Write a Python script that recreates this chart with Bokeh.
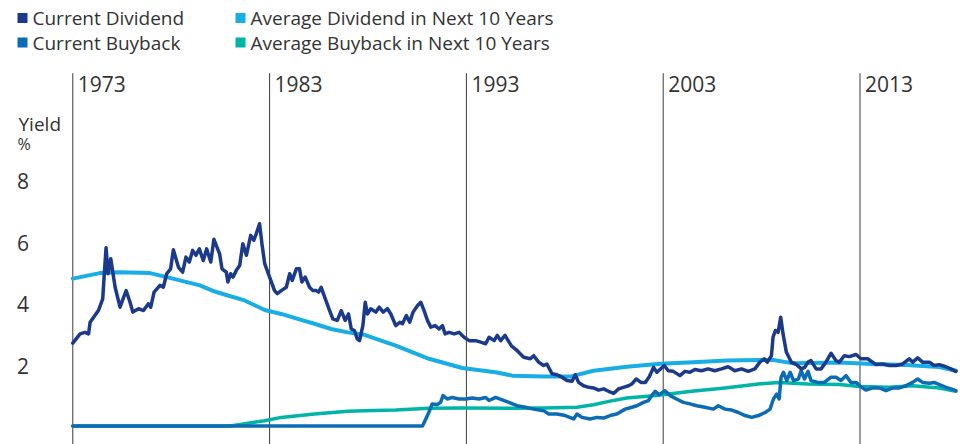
from bokeh.plotting import figure
from bokeh.models import Range1d, Label, BoxAnnotation, ColumnDataSource
from bokeh.core.properties import value
from bokeh.embed import file_html
from bokeh.resources import INLINE

# ---- data: (fractional year, yield %) ----
current_dividend = [
    (1973.00, 2.70), (1973.37, 3.00), (1973.62, 3.05), (1973.80, 3.00), (1973.88, 3.38),
    (1974.30, 3.76), (1974.52, 4.14), (1974.59, 4.85), (1974.69, 5.81), (1974.79, 4.96),
    (1974.93, 5.45), (1975.15, 4.52), (1975.40, 3.87), (1975.71, 4.41), (1975.91, 4.03),
    (1976.05, 3.71), (1976.34, 3.82), (1976.59, 3.76), (1976.84, 3.98), (1976.96, 3.87),
    (1977.13, 4.36), (1977.43, 4.58), (1977.60, 4.52), (1977.77, 4.96), (1977.97, 5.12),
    (1978.11, 5.74), (1978.37, 5.17), (1978.58, 5.01), (1978.75, 5.50), (1978.92, 5.34),
    (1979.09, 5.72), (1979.26, 5.56), (1979.43, 5.77), (1979.63, 5.39), (1979.80, 5.77),
    (1980.01, 5.34), (1980.17, 6.08), (1980.46, 5.61), (1980.58, 5.12), (1980.80, 5.01),
    (1980.88, 4.69), (1981.02, 4.96), (1981.14, 4.85), (1981.31, 5.07), (1981.48, 5.23),
    (1981.64, 5.94), (1981.82, 5.56), (1982.04, 6.21), (1982.20, 6.05), (1982.32, 6.26),
    (1982.49, 6.59), (1982.61, 5.94), (1982.75, 5.29), (1983.00, 4.85), (1983.25, 4.41),
    (1983.39, 4.31), (1983.59, 4.41), (1983.85, 4.52), (1984.02, 4.96), (1984.15, 4.74),
    (1984.36, 5.12), (1984.52, 5.12), (1984.64, 4.69), (1984.81, 4.85), (1985.03, 4.52),
    (1985.20, 4.41), (1985.37, 4.41), (1985.49, 4.36), (1985.62, 4.52), (1985.83, 4.14),
    (1986.05, 3.76), (1986.21, 3.49), (1986.44, 3.44), (1986.64, 3.76), (1986.84, 3.44),
    (1987.01, 3.65), (1987.15, 3.16), (1987.31, 3.11), (1987.45, 2.84), (1987.57, 2.78),
    (1987.74, 3.27), (1987.86, 4.03), (1987.97, 3.65), (1988.14, 3.82), (1988.40, 3.71),
    (1988.57, 3.87), (1988.77, 3.71), (1988.99, 3.82), (1989.16, 3.65), (1989.41, 3.27),
    (1989.62, 3.38), (1989.75, 3.33), (1989.95, 3.60), (1990.12, 3.38), (1990.29, 3.71),
    (1990.51, 3.92), (1990.68, 4.03), (1990.85, 3.76), (1991.02, 3.44), (1991.19, 3.22),
    (1991.41, 3.27), (1991.61, 3.16), (1991.78, 3.27), (1991.92, 3.00), (1992.12, 3.05),
    (1992.38, 3.00), (1992.63, 3.05), (1992.88, 2.89), (1993.14, 2.78), (1993.47, 2.78),
    (1993.73, 2.73), (1993.98, 2.68), (1994.15, 2.89), (1994.41, 2.78), (1994.57, 2.95),
    (1994.74, 2.78), (1994.96, 2.95), (1995.17, 2.73), (1995.30, 2.60), (1995.57, 2.46),
    (1995.91, 2.24), (1996.25, 2.19), (1996.42, 2.29), (1996.67, 2.08), (1996.92, 1.97),
    (1997.09, 2.02), (1997.35, 1.70), (1997.60, 1.67), (1997.86, 1.59), (1998.11, 1.48),
    (1998.37, 1.46), (1998.53, 1.67), (1998.70, 1.42), (1998.95, 1.31), (1999.21, 1.26),
    (1999.46, 1.24), (1999.72, 1.17), (1999.97, 1.21), (2000.22, 1.13), (2000.48, 1.06),
    (2000.73, 1.21), (2000.98, 1.26), (2001.24, 1.31), (2001.41, 1.37), (2001.63, 1.53),
    (2001.87, 1.42), (2002.09, 1.42), (2002.30, 1.61), (2002.51, 1.91), (2002.68, 1.75),
    (2002.85, 1.85), (2003.05, 1.97), (2003.26, 1.80), (2003.51, 1.78), (2003.85, 1.64),
    (2004.10, 1.78), (2004.36, 1.75), (2004.61, 1.84), (2004.94, 1.80), (2005.28, 1.86),
    (2005.62, 1.80), (2005.96, 1.86), (2006.30, 1.93), (2006.64, 1.80), (2006.98, 1.86),
    (2007.32, 1.78), (2007.66, 1.86), (2007.91, 2.08), (2008.13, 2.19), (2008.29, 2.08),
    (2008.50, 2.29), (2008.58, 2.89), (2008.70, 3.11), (2008.84, 3.05), (2008.97, 3.54),
    (2009.09, 3.00), (2009.26, 2.40), (2009.51, 2.08), (2009.77, 2.00), (2010.02, 1.86),
    (2010.19, 1.91), (2010.36, 2.08), (2010.51, 2.13), (2010.77, 1.86), (2011.02, 1.86),
    (2011.27, 2.08), (2011.53, 2.37), (2011.78, 2.13), (2011.95, 2.08), (2012.20, 2.29),
    (2012.46, 2.26), (2012.80, 2.33), (2013.05, 2.19), (2013.39, 2.19), (2013.81, 2.00),
    (2014.15, 2.02), (2014.49, 1.97), (2014.83, 1.97), (2015.17, 2.02), (2015.50, 2.19),
    (2015.68, 2.08), (2015.93, 2.22), (2016.18, 2.08), (2016.52, 2.08), (2016.77, 1.97),
    (2017.03, 2.00), (2017.37, 1.93), (2017.62, 1.86), (2017.87, 1.78),
]

average_dividend_next10 = [
    (1973.00, 4.80), (1974.37, 4.98), (1975.40, 5.01), (1976.92, 4.98), (1977.77, 4.85),
    (1979.46, 4.58), (1980.21, 4.38), (1980.88, 4.25), (1981.73, 4.09), (1982.75, 3.78),
    (1983.59, 3.65), (1984.43, 3.49), (1985.28, 3.33), (1986.13, 3.16), (1986.97, 3.05),
    (1987.82, 2.97), (1989.41, 2.62), (1991.10, 2.19), (1992.79, 1.89), (1994.48, 1.75),
    (1995.34, 1.64), (1996.92, 1.61), (1998.27, 1.61), (1999.46, 1.80), (2001.15, 1.93),
    (2002.85, 2.03), (2004.54, 2.08), (2006.23, 2.13), (2007.92, 2.15), (2008.60, 2.15),
    (2009.61, 2.04), (2010.46, 2.05), (2011.95, 2.07), (2013.64, 2.02), (2015.33, 1.99),
    (2017.03, 1.92), (2017.87, 1.80),
]

current_buyback = [
    (1973.00, 0.00), (1990.77, 0.00), (1991.09, 0.44), (1991.26, 0.72), (1991.52, 0.70),
    (1991.69, 0.77), (1991.81, 0.99), (1992.03, 0.88), (1992.28, 0.93), (1992.62, 0.88),
    (1992.96, 0.88), (1993.30, 0.91), (1993.64, 0.88), (1993.98, 0.93), (1994.15, 0.83),
    (1994.48, 0.93), (1994.82, 0.85), (1995.16, 0.77), (1995.57, 0.66), (1996.00, 0.61),
    (1996.42, 0.55), (1996.92, 0.50), (1997.18, 0.39), (1997.60, 0.39), (1998.02, 0.34),
    (1998.45, 0.23), (1998.62, 0.39), (1998.87, 0.28), (1999.29, 0.23), (1999.63, 0.28),
    (1999.97, 0.26), (2000.30, 0.34), (2000.64, 0.39), (2001.07, 0.55), (2001.41, 0.61),
    (2001.66, 0.66), (2002.00, 0.77), (2002.25, 0.83), (2002.42, 0.99), (2002.59, 1.13),
    (2002.80, 1.02), (2003.09, 1.15), (2003.35, 0.99), (2003.68, 0.88), (2004.02, 0.77),
    (2004.36, 0.72), (2004.70, 0.66), (2005.12, 0.61), (2005.55, 0.55), (2005.80, 0.66),
    (2006.14, 0.55), (2006.48, 0.52), (2006.82, 0.44), (2007.16, 0.34), (2007.50, 0.28),
    (2007.84, 0.34), (2008.18, 0.44), (2008.43, 0.55), (2008.60, 0.88), (2008.77, 1.04),
    (2008.89, 0.88), (2008.99, 1.59), (2009.11, 1.75), (2009.28, 1.48), (2009.45, 1.75),
    (2009.62, 1.48), (2009.87, 1.53), (2010.01, 1.80), (2010.18, 1.53), (2010.36, 1.78),
    (2010.51, 1.48), (2010.85, 1.42), (2011.19, 1.42), (2011.53, 1.59), (2011.78, 1.59),
    (2012.03, 1.48), (2012.29, 1.64), (2012.54, 1.42), (2012.80, 1.42), (2013.05, 1.28),
    (2013.30, 1.17), (2013.64, 1.24), (2013.98, 1.24), (2014.32, 1.15), (2014.66, 1.24),
    (2015.00, 1.24), (2015.33, 1.31), (2015.67, 1.42), (2015.93, 1.53), (2016.18, 1.42),
    (2016.52, 1.39), (2016.77, 1.42), (2017.03, 1.35), (2017.37, 1.26), (2017.62, 1.21),
    (2017.87, 1.15),
]

average_buyback_next10 = [
    (1973.00, 0.00), (1981.00, 0.00), (1982.00, 0.10), (1982.75, 0.17), (1983.59, 0.28),
    (1985.28, 0.39), (1986.97, 0.48), (1987.82, 0.50), (1989.41, 0.52), (1991.10, 0.58),
    (1992.79, 0.59), (1995.34, 0.58), (1996.92, 0.59), (1998.61, 0.61), (1999.46, 0.69),
    (2000.30, 0.81), (2001.15, 0.91), (2002.34, 0.98), (2002.75, 1.00), (2004.44, 1.13),
    (2006.14, 1.24), (2007.84, 1.37), (2008.86, 1.42), (2010.36, 1.37), (2011.95, 1.35),
    (2012.97, 1.29), (2014.49, 1.26), (2015.68, 1.31), (2017.03, 1.24), (2017.87, 1.13),
]

decade_years = [1973, 1983, 1993, 2003, 2013]
decade_labels = ["1973", "1983", "1993", "2003", "2013"]
yield_ticks = [2, 4, 6, 8]
yield_tick_labels = ["2", "4", "6", "8"]

series_names = [
    "Current Dividend",
    "Current Buyback",
    "Average Dividend in Next 10 Years",
    "Average Buyback in Next 10 Years",
]

# ---- styling ----
NAVY = "#1b3a8b"
SKY = "#19ade6"
BLUE = "#0b6cb5"
TEAL = "#00b5a6"
INK = "#333333"
FONT = "Open Sans"

W, H = 964, 444
PX_PER_YEAR = 19.68
PX_PER_PCT = 30.7
X_1973 = 72.3      # screen x of 1973
Y_ZERO = 425.5     # screen y (from top) of 0 %

x_start = 1973 - X_1973 / PX_PER_YEAR
x_end = 1973 + (W - X_1973) / PX_PER_YEAR
y_end = Y_ZERO / PX_PER_PCT
y_start = -(H - Y_ZERO) / PX_PER_PCT

p = figure(
    width=W, height=H,
    x_range=Range1d(x_start, x_end), y_range=Range1d(y_start, y_end),
    output_backend="svg", toolbar_location=None,
    x_axis_location=None, y_axis_location=None,
    min_border=0, outline_line_color=None,
    background_fill_color="white", border_fill_color="white",
)
p.xgrid.visible = False
p.ygrid.visible = False

# decade divider lines and their labels
line_top = y_end - 72.7 / PX_PER_PCT
p.segment(x0=decade_years, y0=[y_start] * len(decade_years),
          x1=decade_years, y1=[line_top] * len(decade_years),
          line_color="#3a3a3a", line_width=1)
p.text(x=decade_years, y=[y_end - 83 / PX_PER_PCT] * len(decade_years),
       text=decade_labels, x_offset=5, text_align="left", text_baseline="middle",
       text_font=value(FONT), text_font_size="21px", text_color=INK)

# y tick labels on the left
tick_src = ColumnDataSource(dict(x=[x_start] * len(yield_ticks), y=yield_ticks,
                                 t=yield_tick_labels))
p.text(x="x", y="y", text="t", source=tick_src, x_offset=22.5, y_offset=1,
       text_align="center", text_baseline="middle",
       text_font=value(FONT), text_font_size="21px", text_color=INK)

p.add_layout(Label(x=18, y=H - 123, x_units="screen", y_units="screen", text="Yield",
                   text_font=FONT, text_font_size="19px", text_color=INK,
                   text_baseline="middle"))
p.add_layout(Label(x=17, y=H - 143, x_units="screen", y_units="screen", text="%",
                   text_font=FONT, text_font_size="16px", text_color=INK,
                   text_baseline="middle"))


def xy(series):
    return [d[0] for d in series], [d[1] for d in series]


for series, color, width in [
    (average_buyback_next10, TEAL, 3.5),
    (average_dividend_next10, SKY, 4),
    (current_buyback, BLUE, 3.5),
    (current_dividend, NAVY, 3.5),
]:
    xs, ys = xy(series)
    p.line(xs, ys, line_color=color, line_width=width, line_join="round", line_cap="round")

# legend: two rows, two columns of square swatches
legend_colors = [NAVY, BLUE, SKY, TEAL]
legend_pos = [(17, 17.5), (17, 42), (235, 17.5), (235, 42)]
for name, color, (lx, ly) in zip(series_names, legend_colors, legend_pos):
    p.add_layout(BoxAnnotation(left=lx, right=lx + 10, top=H - ly + 5, bottom=H - ly - 5,
                               left_units="screen", right_units="screen",
                               top_units="screen", bottom_units="screen",
                               fill_color=color, fill_alpha=1, line_color=None))
    p.add_layout(Label(x=lx + 15, y=H - ly, x_units="screen", y_units="screen", text=name,
                       text_font=FONT, text_font_size="19px", text_color=INK,
                       text_baseline="middle"))

open("out.html", "w").write(file_html(p, INLINE))
